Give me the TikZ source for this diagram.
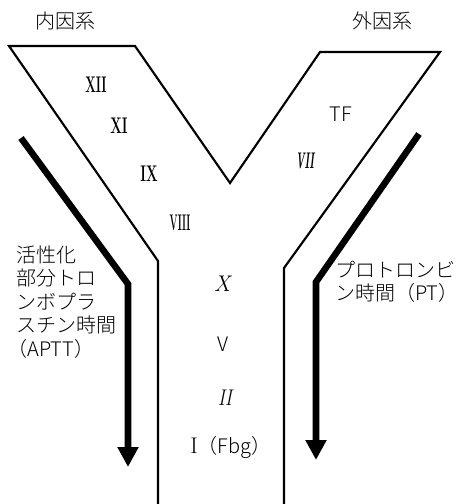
\documentclass[tikz,border=0pt]{standalone}
\usepackage{fontspec}
\newfontfamily\jp{Noto Sans CJK JP}[UprightFont=* Light]
\usetikzlibrary{arrows.meta}
\begin{document}
\begin{tikzpicture}[x=0.75pt,y=-0.75pt,
  outline/.style={line width=1.6pt, line join=miter},
  bigarrow/.style={line width=4.9pt, line join=miter, -{Triangle[length=15pt,width=15pt]}},
  jlab/.style={font=\jp\fontsize{15}{17}\selectfont, inner sep=0pt},
  rom/.style={font=\fontsize{17}{20}\selectfont\bfseries, inner sep=0pt}]
\useasboundingbox (0,0) rectangle (461,504);
% Y-shaped outline
\coordinate (lb) at (158,504);
\coordinate (lk) at (158,261);
\coordinate (tl) at (9,46);
\coordinate (tm) at (135,46);
\coordinate (v) at (230,183);
\coordinate (tn) at (320,52);
\coordinate (tr) at (440,52);
\coordinate (rk) at (284,268);
\coordinate (rb) at (284,504);
\draw[outline] (lb) -- (lk) -- (tl) -- (tm) -- (v) -- (tn) -- (tr) -- (rk) -- (rb);
% thick arrows
\coordinate (a1s) at (21,138);
\coordinate (a1k) at (128,284);
\coordinate (a1e) at (128,467);
\draw[bigarrow] (a1s) -- (a1k) -- (a1e);
\coordinate (a2s) at (419,134);
\coordinate (a2k) at (316,282);
\coordinate (a2e) at (316,460);
\draw[bigarrow] (a2s) -- (a2k) -- (a2e);
% headings
\node[jlab] (intr) at (66,21) {内因系};
\node[jlab] (extr) at (382,21) {外因系};
% factors
\node[rom] (n12) at (96,85) {\scalebox{0.55}[1]{XII}};
\node[rom] (n11) at (119,126) {\scalebox{0.6}[1]{XI}};
\node[rom] (n9) at (149,174) {\scalebox{0.6}[1]{IX}};
\node[rom] (n8) at (180,223) {\scalebox{0.42}[1]{VIII}};
\node[jlab] (tf) at (341,114) {TF};
\node[rom] (n7) at (305,161) {\scalebox{0.45}[1]{\itshape VII}};
\node[rom] (n10) at (222,284) {\mdseries\itshape X};
\node[jlab] (n5) at (223,344) {V};
\node[rom] (n2) at (225,398) {\mdseries\scalebox{0.8}[1]{\itshape II}};
\node[jlab] (n1) at (231,448) {{\rmfamily\fontsize{17}{20}\selectfont I}（Fbg）};
% left label
\node[jlab, anchor=west] (l1) at (16,255) {活性化};
\node[jlab, anchor=west] (l2) at (16,278) {部分トロ};
\node[jlab, anchor=west] (l3) at (16,302) {ンボプラ};
\node[jlab, anchor=west] (l4) at (16,325) {スチン時間};
\node[jlab, anchor=west] (l5) at (7,349) {（APTT）};
% right label
\node[jlab, anchor=west] (r1) at (335,270) {プロトロンビ};
\node[jlab, anchor=west] (r2) at (335,293) {ン時間（PT）};
\end{tikzpicture}
\end{document}
